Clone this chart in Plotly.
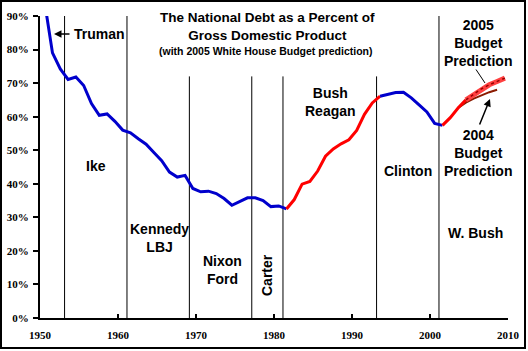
import plotly.graph_objects as go

# ---------------- data ----------------
blue1_years = list(range(1950, 1982))
blue1_vals = [94.0, 79.0, 74.2, 71.1, 71.8, 69.3, 63.9, 60.4, 60.8, 58.6, 56.0,
              55.2, 53.4, 51.8, 49.3, 46.9, 43.5, 42.0, 42.5, 38.6, 37.6, 37.8,
              37.1, 35.6, 33.6, 34.7, 35.8, 35.8, 35.0, 33.2, 33.4, 32.5]
red1_years = list(range(1981, 1994))
red1_vals = [32.5, 35.3, 39.9, 40.7, 43.8, 48.2, 50.4, 51.9, 53.1, 55.9, 60.7, 64.1, 66.1]
blue2_years = list(range(1993, 2002))
blue2_vals = [66.1, 66.7, 67.2, 67.3, 65.6, 63.5, 61.4, 58.0, 57.4]
red2_years = list(range(2001, 2005))
red2_vals = [57.4, 59.7, 62.6, 65.0]
pred2005_years = list(range(2004, 2010))
pred2005_vals = [65.0, 66.6, 68.3, 69.5, 70.5, 71.5]
pred2004_years = list(range(2003, 2009))
pred2004_vals = [62.6, 64.2, 65.4, 66.4, 67.3, 68.0]

term_starts = [1953, 1961, 1969, 1977, 1981, 1993, 2001]
term_line_tops = [90, 90, 72, 72, 72, 72, 90]

y_ticks = [0, 10, 20, 30, 40, 50, 60, 70, 80, 90]
y_tick_labels = ["0%", "10%", "20%", "30%", "40%", "50%", "60%", "70%", "80%", "90%"]
x_ticks = [1950, 1960, 1970, 1980, 1990, 2000, 2010]

MID = 0.6      # fiscal-year values plotted mid-year
INAUG = 0.15   # term boundaries just after the start of the year

W, H = 528, 351
L, R, T, B = 40, 20, 16, 33
PW, PH = W - L - R, H - T - B


def X(px):
    return 1950 + (px - L) * 60 / PW


def Y(py):
    return (H - B - py) * 90 / PH


def shift(ys):
    return [y + MID for y in ys]


fig = go.Figure()
fig.add_trace(go.Scatter(x=shift(pred2004_years), y=pred2004_vals, mode="lines",
                         line=dict(color="#8B1A00", width=2)))
fig.add_trace(go.Scatter(x=shift(blue1_years), y=blue1_vals, mode="lines",
                         line=dict(color="#0000CC", width=3)))
fig.add_trace(go.Scatter(x=shift(red1_years), y=red1_vals, mode="lines",
                         line=dict(color="#FF0000", width=3)))
fig.add_trace(go.Scatter(x=shift(blue2_years), y=blue2_vals, mode="lines",
                         line=dict(color="#0000CC", width=3)))
fig.add_trace(go.Scatter(x=shift(red2_years), y=red2_vals, mode="lines",
                         line=dict(color="#FF0000", width=3)))
fig.add_trace(go.Scatter(x=shift(pred2005_years), y=pred2005_vals, mode="lines",
                         line=dict(color="#FF4040", width=5)))
fig.add_trace(go.Scatter(x=shift(pred2005_years), y=pred2005_vals, mode="lines",
                         line=dict(color="#990000", width=1.5, dash="dot")))

shapes = []
for ts, top in zip(term_starts, term_line_tops):
    shapes.append(dict(type="line", xref="x", yref="y", x0=ts + INAUG, x1=ts + INAUG,
                       y0=0, y1=top, line=dict(color="black", width=1), layer="below"))
# outer frame
shapes.append(dict(type="rect", xref="paper", yref="paper",
                   x0=(1 - L) / PW, x1=(525 - L) / PW,
                   y0=-(348 - (H - B)) / PH, y1=1 + (T - 1) / PH,
                   line=dict(color="black", width=2)))

sans = "Liberation Sans, Arial, sans-serif"
serif = "Liberation Serif, Times New Roman, serif"
lab = dict(family=sans, size=14, color="black", weight="bold")

ann = []


def text(px, py, t, **kw):
    d = dict(x=X(px), y=Y(py), xref="x", yref="y", text=t, showarrow=False,
             font=kw.pop("font", lab), align="center")
    d.update(kw)
    ann.append(d)


text(267, 26, "The National Debt as a Percent of<br>Gross Domestic Product",
     font=dict(family=sans, size=13.5, color="black", weight="bold"))
text(266, 51, "(with 2005 White House Budget prediction)",
     font=dict(family=sans, size=10.5, color="black", weight="bold"))
text(72, 34, "Truman", xanchor="left")
text(96, 166, "Ike")
text(159, 237.5, "Kennedy<br>LBJ")
text(222, 269.5, "Nixon<br>Ford")
text(267, 275, "Carter", textangle=-90)
text(330, 101.5, "Bush<br>Reagan")
text(408, 171, "Clinton")
text(475, 233, "W. Bush")
text(478, 43, "2005<br>Budget<br>Prediction")
text(478, 153, "2004<br>Budget<br>Prediction")

# arrows
ann.append(dict(x=X(54), y=Y(34), ax=X(71), ay=Y(34), axref="x", ayref="y",
                xref="x", yref="y", text="", showarrow=True, arrowhead=2,
                arrowsize=1, arrowwidth=1.5, arrowcolor="black"))
ann.append(dict(x=X(485), y=Y(83), ax=X(475), ay=Y(68), axref="x", ayref="y",
                xref="x", yref="y", text="", showarrow=True, arrowhead=0,
                arrowwidth=1, arrowcolor="black"))
ann.append(dict(x=X(490), y=Y(99), ax=X(479), ay=Y(126), axref="x", ayref="y",
                xref="x", yref="y", text="", showarrow=True, arrowhead=2,
                arrowsize=1, arrowwidth=1.5, arrowcolor="black"))

fig.update_layout(
    width=W, height=H,
    margin=dict(l=L, r=R, t=T, b=B, pad=0, autoexpand=False),
    paper_bgcolor="white", plot_bgcolor="white",
    showlegend=False,
    shapes=shapes, annotations=ann,
    xaxis=dict(range=[1950, 2010], tickvals=x_ticks, ticks="inside", ticklen=4,
               tickwidth=2, tickcolor="black", showline=True, linewidth=2,
               linecolor="black", showgrid=False, zeroline=False,
               ticklabelstandoff=6, automargin=False,
               tickfont=dict(family=serif, size=11, color="black", weight="bold")),
    yaxis=dict(range=[0, 90], tickvals=y_ticks, ticktext=y_tick_labels,
               ticks="outside", ticklen=5, tickwidth=2, tickcolor="black",
               showline=True, linewidth=2, linecolor="black", showgrid=False,
               zeroline=False, ticklabelstandoff=2, automargin=False,
               tickfont=dict(family=serif, size=11, color="black", weight="bold")),
)

fig.write_html("out.html")
